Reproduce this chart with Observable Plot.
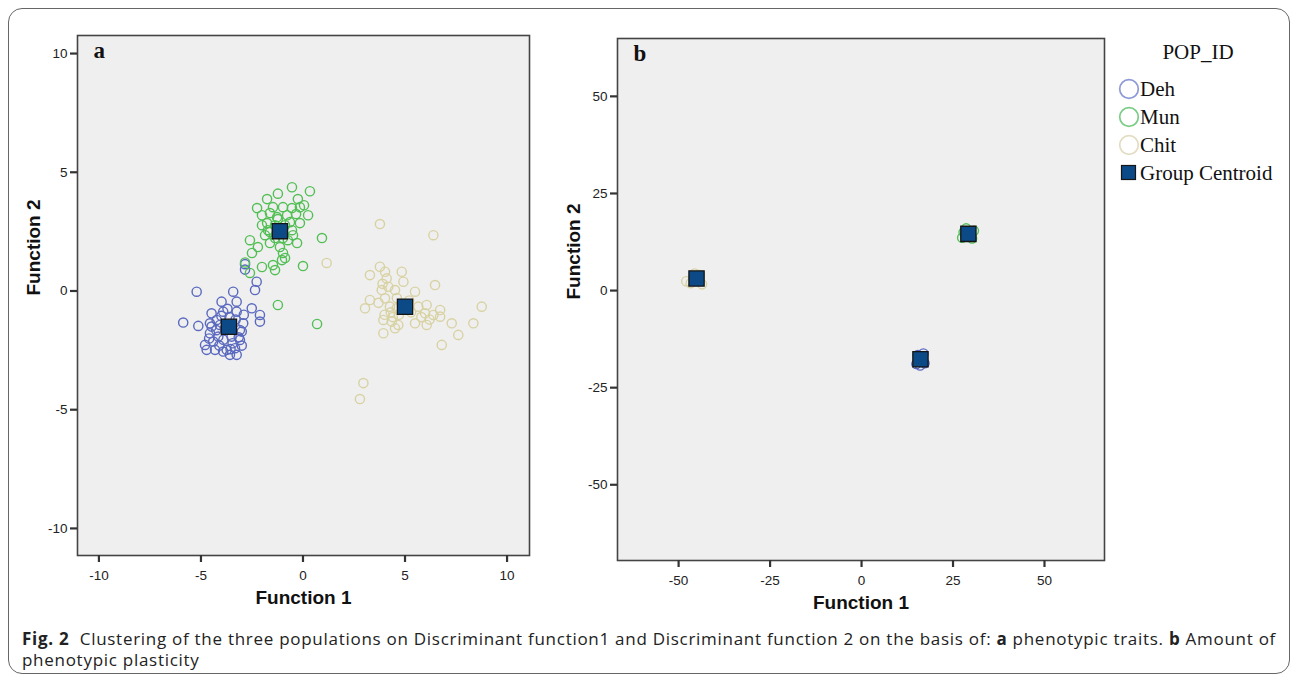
<!DOCTYPE html>
<html><head><meta charset="utf-8">
<script src="https://cdn.jsdelivr.net/npm/d3@7"></script>
<script src="https://cdn.jsdelivr.net/npm/@observablehq/plot@0.6"></script>
<style>
body{margin:0;background:#fff;}
#page{position:relative;width:1293px;height:674px;overflow:hidden;background:#fff;}
#border{position:absolute;left:8px;top:8px;width:1282px;height:666px;border:1.3px solid #666;border-radius:14px;box-sizing:border-box;}
.panel{position:absolute;top:0;}
#legend{position:absolute;left:0;top:0;font-family:"Liberation Serif","Times New Roman",serif;color:#111;}
#caption{position:absolute;left:22px;top:628px;font-family:"Open Sans",sans-serif;font-size:17px;letter-spacing:0.72px;word-spacing:0px;line-height:21px;color:#222;white-space:nowrap;}
</style></head>
<body><div id="page"><div id="border"></div><div id="pa" class="panel" style="left:0"></div><div id="pb" class="panel" style="left:560px"></div><div id="legend"></div>
<div id="caption"><b>Fig. 2</b>&nbsp; Clustering of the three populations on Discriminant function1 and Discriminant function 2 on the basis of: <b>a</b> phenotypic traits. <b>b</b> Amount of<br>phenotypic plasticity</div></div>
<script>
// ---- data ----
const populations = ["Deh", "Mun", "Chit"];
const popColors = ["#5a69bf", "#52bf55", "#d8d2a3"];
const legendColors = ["#8e9ad6", "#7ccc88", "#e2ddc2"];
const centroidLabel = "Group Centroid";
const legendTitle = "POP_ID";

const dehA = [[-5.21,-0.03],[-3.42,-0.03],[-2.27,0.39],[-2.35,0.04],[-2.84,1.13],[-3.99,-0.45],[-3.25,-0.45],[-4.48,-0.94],[-3.91,-0.87],[-3.25,-0.87],[-2.51,-0.73],[-2.11,-1.01],[-2.11,-1.29],[-5.87,-1.33],[-5.13,-1.47],[-4.56,-1.36],[-4.23,-1.22],[-2.93,-1.36],[-3.0,-1.71],[-4.56,-1.78],[-4.4,-2.13],[-3.09,-2.06],[-4.8,-2.27],[-4.72,-2.48],[-4.31,-2.48],[-3.74,-2.48],[-3.33,-2.41],[-3.25,-2.69],[-3.58,-2.69],[-3.91,-2.55],[-4.15,-1.92],[-3.5,-1.92],[-3.82,-1.57],[-4.48,-1.5],[-4.07,-1.43],[-3.09,-1.64],[-3.6,-1.1],[-3.3,-1.2],[-4.0,-1.05],[-3.45,-2.2],[-3.9,-2.05],[-4.25,-1.65],[-3.15,-1.95],[-3.7,-0.75],[-4.1,-2.3],[-3.0,-2.3],[-2.9,-1.0],[-3.55,-2.45],[-4.6,-2.0],[-2.84,0.9]];
const munA = [[-0.54,4.37],[0.34,4.2],[-1.23,4.1],[-1.76,3.87],[-0.25,3.87],[-2.25,3.49],[-1.47,3.53],[-0.98,3.53],[-0.54,3.49],[-0.15,3.53],[-2.01,3.19],[-1.62,3.28],[-1.27,3.11],[-0.78,3.19],[0.25,3.19],[-1.76,2.86],[-0.15,2.86],[-1.62,2.48],[-0.54,2.56],[-0.49,2.35],[0.93,2.23],[-2.6,2.14],[-2.21,1.85],[-1.62,2.02],[-1.13,1.85],[-0.29,2.02],[-2.5,1.6],[-0.98,1.6],[-0.88,1.39],[-1.03,1.3],[-2.01,1.01],[-1.47,1.09],[-1.37,0.88],[0.0,1.05],[-2.6,0.76],[-1.23,-0.59],[0.69,-1.39],[-1.37,2.77],[-0.88,2.77],[-1.72,2.56],[-0.64,2.9],[-0.98,2.23],[-1.37,2.23],[-1.86,2.35],[-0.74,2.14],[-1.23,3.03],[-0.34,3.24],[-2.01,2.77],[0.05,3.61],[-2.84,1.2]];
const chitA = [[3.77,2.82],[6.39,2.35],[3.28,0.67],[3.77,1.02],[4.02,0.81],[4.84,0.81],[4.92,0.39],[4.1,0.53],[3.86,0.04],[4.18,0.18],[4.51,0.04],[5.49,-0.03],[6.47,0.25],[4.02,-0.31],[3.28,-0.38],[3.04,-0.73],[4.26,-0.66],[4.59,-0.73],[5.65,-0.66],[6.06,-0.59],[5.98,-0.94],[6.39,-1.01],[6.72,-0.8],[6.72,-1.08],[8.76,-0.66],[3.94,-1.22],[4.35,-1.29],[4.67,-1.43],[4.51,-1.57],[5.49,-1.36],[6.06,-1.43],[7.29,-1.36],[8.35,-1.36],[7.61,-1.85],[3.94,-1.78],[6.8,-2.27],[2.96,-3.88],[2.79,-4.55],[4.3,-0.9],[4.7,-1.0],[5.3,-0.9],[5.8,-1.1],[6.2,-1.2],[4.0,-1.0],[3.7,-0.5],[5.2,-0.4],[4.6,-0.3],[1.16,1.18],[3.9,0.3],[4.4,-1.1]];
const centroidsA = [[-3.63,-1.51],[-1.13,2.52],[5.0,-0.66]];

const dehB = [[15.0,-18.9],[16.9,-16.2],[15.4,-16.6],[17.2,-18.7],[16.0,-19.3]];
const munB = [[27.5,13.6],[30.7,15.4],[28.6,16.0],[30.2,13.4],[27.9,15.0]];
const chitB = [[-47.9,2.4],[-43.6,1.6],[-45.6,4.4],[-44.3,4.0],[-46.7,1.9]];
const centroidsB = [[16.1,-17.7],[29.2,14.6],[-45.1,3.1]];

const ticksA = [-10,-5,0,5,10];
const ticksB = [-50,-25,0,25,50];
const xLabel = "Function 1", yLabel = "Function 2";

// ---- drawing ----
const narrow = '"Liberation Sans Narrow","Arial Narrow","Liberation Sans",Arial,sans-serif';
const serif = '"Liberation Serif","Times New Roman",serif';

function panel({groups, cents, xDomain, yDomain, ticks, m, letter}) {
  const width = 560, height = 620;
  return Plot.plot({
    width, height,
    marginLeft: m[0], marginRight: m[1], marginTop: m[2], marginBottom: m[3],
    style: {background: "transparent", fontFamily: narrow, fontSize: "13.5px", color: "#222", overflow: "visible"},
    x: {domain: xDomain},
    y: {domain: yDomain},
    marks: [
      Plot.frame({fill: "#efefef", stroke: null}),
      ...groups.map((g, i) => Plot.dot(g, {x: d => d[0], y: d => d[1], r: 4.6, stroke: popColors[i], strokeWidth: 1.4, fill: "none"})),
      Plot.dot(cents, {x: d => d[0], y: d => d[1], symbol: "square", r: 8.6, fill: "#0b4a86", stroke: "#151515", strokeWidth: 1.3}),
      Plot.frame({stroke: "#444", strokeWidth: 1.6}),
      Plot.axisX({ticks, tickSize: 7, tickPadding: 8, strokeWidth: 2.2, stroke: "#333", label: null, tickFormat: d => String(d)}),
      Plot.axisY({ticks, tickSize: 7, tickPadding: 3, strokeWidth: 2.2, stroke: "#333", label: null, tickFormat: d => String(d)}),
      Plot.text([xLabel], {frameAnchor: "bottom", dy: 48, fontWeight: "bold", fontSize: 19, fill: "#111"}),
      Plot.text([yLabel], {frameAnchor: "left", dx: -44, rotate: -90, fontWeight: "bold", fontSize: 19, fill: "#111"}),
      Plot.text([letter], {frameAnchor: "top-left", dx: 16, dy: 6, fontFamily: serif, fontWeight: "bold", fontSize: 23, fill: "#111"})
    ]
  });
}

document.getElementById("pa").append(panel({
  groups: [dehA, munA, chitA], cents: centroidsA,
  xDomain: [-11.05, 11.1], yDomain: [-11.14, 10.76], ticks: ticksA,
  m: [77, 31, 35, 65], letter: "a"
}));
document.getElementById("pb").append(panel({
  groups: [dehB, munB, chitB], cents: centroidsB,
  xDomain: [-66.7, 66.4], yDomain: [-69.5, 64.9], ticks: ticksB,
  m: [57, 16, 38, 60], letter: "b"
}));

// legend
const lg = document.getElementById("legend");
let html = `<div style="position:absolute;left:1140px;top:38px;width:116px;text-align:center;font-size:21px;line-height:28px;">${legendTitle}</div>`;
populations.forEach((p, i) => {
  const cy = 89 + 28 * i;
  html += `<svg style="position:absolute;left:1118px;top:${cy-11}px" width="22" height="22"><circle cx="11" cy="11" r="9.3" fill="none" stroke="${legendColors[i]}" stroke-width="1.7"/></svg>`;
  html += `<div style="position:absolute;left:1140px;top:${cy-14}px;font-size:21px;line-height:28px;">${p}</div>`;
});
{
  const cy = 89 + 28 * 3;
  html += `<svg style="position:absolute;left:1120px;top:${cy-9}px" width="18" height="18"><rect x="1.5" y="1.5" width="14" height="14" fill="#0b4a86" stroke="#151515" stroke-width="1.2"/></svg>`;
  html += `<div style="position:absolute;left:1140px;top:${cy-14}px;font-size:21px;line-height:28px;white-space:nowrap;">${centroidLabel}</div>`;
}
lg.innerHTML = html;
</script></body></html>
